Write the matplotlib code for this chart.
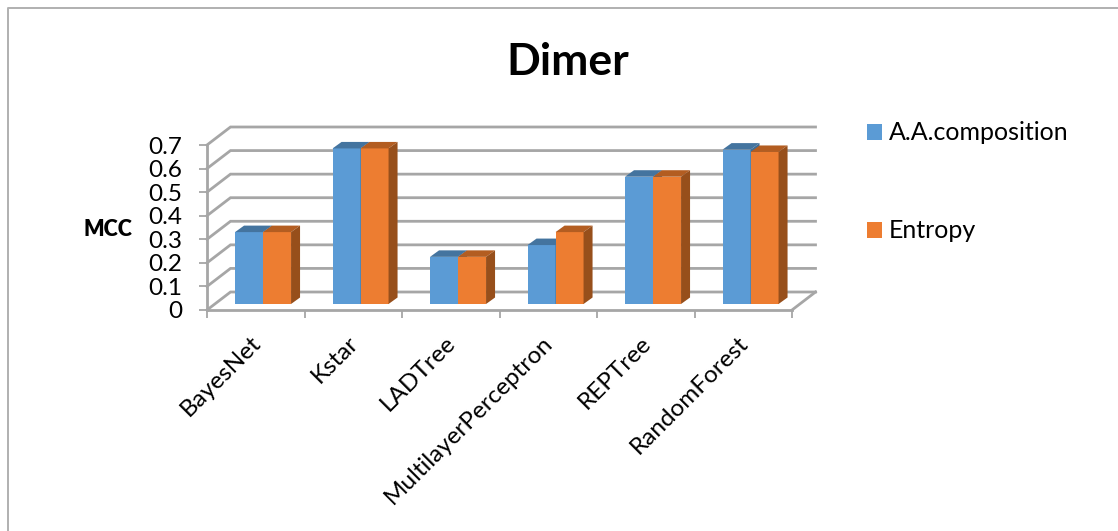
import matplotlib
matplotlib.use("Agg")
import matplotlib.pyplot as plt
from matplotlib.patches import Polygon
from matplotlib.transforms import Affine2D, ScaledTranslation
import numpy as np

plt.rcParams['font.family'] = ['Lato', 'DejaVu Sans']

# Chart values
categories = ["BayesNet", "Kstar", "LADTree", "MultilayerPerceptron", "REPTree", "RandomForest"]
aa_composition = [0.305, 0.66, 0.20, 0.25, 0.54, 0.655]
entropy = [0.305, 0.66, 0.20, 0.305, 0.54, 0.645]
y_ticks = [0, 0.1, 0.2, 0.3, 0.4, 0.5, 0.6, 0.7]
y_tick_labels = ["0", "0.1", "0.2", "0.3", "0.4", "0.5", "0.6", "0.7"]

W, H = 1118, 531
BLUE, BLUE_TOP, BLUE_SIDE = "#5b9bd5", "#44749f", "#3f6d96"
ORANGE, ORANGE_TOP, ORANGE_SIDE = "#ed7d31", "#b35d21", "#974f1b"
GRID = "#a6a6a6"
TEXT = "#000000"

fig = plt.figure(figsize=(W / 100, H / 100), dpi=100, facecolor="white")

# Front plane of the pseudo-3D plot box
left, right, top, bottom = 207, 792, 145, 310
ax = fig.add_axes([left / W, 1 - bottom / H, (right - left) / W, (bottom - top) / H])
ax.set_xlim(0, len(categories))
ax.set_ylim(0, 0.7)
ax.patch.set_alpha(0)

px_x = len(categories) / (right - left)
px_y = 0.7 / (bottom - top)
wall_dx, wall_dy = 23.5 * px_x, 18 * px_y

# Back wall gridlines and the slanted side-wall segments
for v in y_ticks:
    ax.plot([0, wall_dx, len(categories) + wall_dx], [v, v + wall_dy, v + wall_dy],
            color=GRID, lw=2.0, clip_on=False, zorder=1, solid_joinstyle="miter")
ax.plot([len(categories), len(categories) + wall_dx], [0, wall_dy],
        color=GRID, lw=2.0, clip_on=False, zorder=1)

# Bars stand a few pixels behind the front plane
shift = Affine2D().translate(7.3, 6)
plane = ax.transData + shift
bar_w = 28 * px_x
depth_x, depth_y = 9 * px_x, 6.5 * px_y
xpos = np.arange(len(categories)) + 0.5


def draw_series(centres, values, face, top_c, side_c, label):
    bars = ax.bar(centres, values, width=bar_w, color=face, edgecolor="none",
                  transform=plane, clip_on=False, zorder=3, label=label)
    for c, v in zip(centres, values):
        x0, x1 = c - bar_w / 2, c + bar_w / 2
        ax.add_patch(Polygon([(x0, v), (x1, v), (x1 + depth_x, v + depth_y), (x0 + depth_x, v + depth_y)],
                             closed=True, facecolor=top_c, edgecolor="none", transform=plane,
                             clip_on=False, zorder=3))
        ax.add_patch(Polygon([(x1, 0), (x1 + depth_x, depth_y), (x1 + depth_x, v + depth_y), (x1, v)],
                             closed=True, facecolor=side_c, edgecolor="none", transform=plane,
                             clip_on=False, zorder=3))
    return bars


h1 = draw_series(xpos - bar_w / 2, aa_composition, BLUE, BLUE_TOP, BLUE_SIDE, "A.A.composition")
h2 = draw_series(xpos + bar_w / 2, entropy, ORANGE, ORANGE_TOP, ORANGE_SIDE, "Entropy")

# Axes, ticks and labels
for s in ("top", "right"):
    ax.spines[s].set_visible(False)
for s in ("left", "bottom"):
    ax.spines[s].set_color(GRID)
    ax.spines[s].set_linewidth(2.0)
ax.set_yticks(y_ticks)
ax.set_yticklabels(y_tick_labels, fontsize=17.5, color=TEXT)
ax.tick_params(axis="y", length=6, width=1.3, color=GRID, pad=12)
ax.set_xticks(np.arange(len(categories) + 1))
ax.set_xticklabels([])
ax.tick_params(axis="x", which="major", length=6, width=1.3, color=GRID)
ax.set_xticks(xpos, minor=True)
ax.set_xticklabels(categories, minor=True, rotation=45, ha="right", va="top",
                   rotation_mode="anchor", fontsize=17.5, color=TEXT)
ax.tick_params(axis="x", which="minor", length=0, pad=16)
label_shift = ScaledTranslation(-6 / 100, 0, fig.dpi_scale_trans)
for t in ax.get_xticklabels(minor=True):
    t.set_transform(t.get_transform() + label_shift)

fig.text(108 / W, 1 - 229 / H, "MCC", fontsize=15.5, fontweight="heavy", ha="center", va="center", color=TEXT)
fig.text(568 / W, 1 - 62 / H, "Dimer", fontsize=32, fontweight="bold", ha="center", va="center", color=TEXT)

leg = fig.legend(handles=[h1, h2], loc="upper left", bbox_to_anchor=(859 / W, 1 - 114 / H),
                 frameon=False, fontsize=18, handlelength=0.6, handleheight=0.6, handletextpad=0.3,
                 labelspacing=3.0, borderpad=0.3, borderaxespad=0)
for t in leg.get_texts():
    t.set_color(TEXT)
for p in leg.get_patches():
    p.set_edgecolor("none")

# Chart-area border along the top and left
fig.add_artist(plt.Line2D([8 / W, 8 / W, 1], [0, 1 - 8 / H, 1 - 8 / H], color="#b0b0b0", lw=1.4,
                          transform=fig.transFigure))

fig.savefig("out.png", dpi=100, facecolor="white")
